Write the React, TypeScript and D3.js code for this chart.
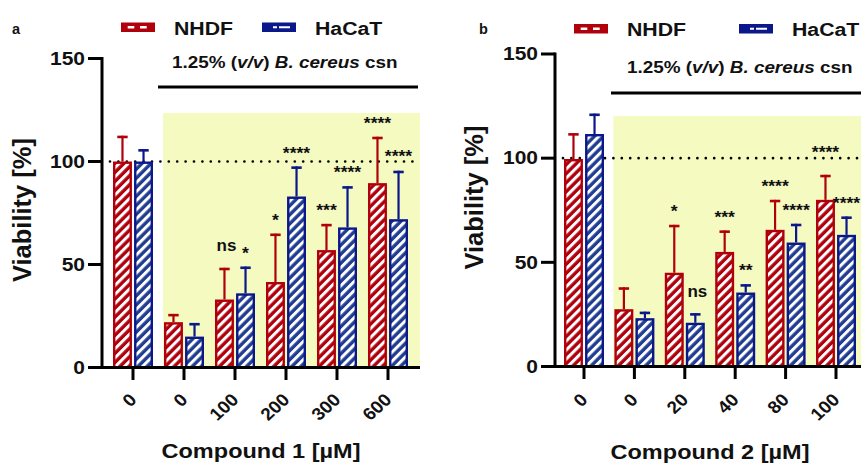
import React from "react";
import * as d3 from "d3";

// Cell lines and treatments
const seriesNames = ["NHDF", "HaCaT"];

// Panel a: Compound 1
const doses1 = ["0", "0", "100", "200", "300", "600"];
const nhdf1 = [100, 22, 33, 41.5, 57, 89.5];
const nhdf1Err = [12.5, 4, 15.4, 23.5, 12.7, 22.5];
const hacat1 = [100, 15, 36, 83, 68, 72];
const hacat1Err = [6, 6.6, 13, 14.6, 20, 23.5];
const nhdf1Sig = ["", "", "ns", "*", "***", "****"];
const hacat1Sig = ["", "", "*", "****", "****", "****"];

// Panel b: Compound 2
const doses2 = ["0", "0", "20", "40", "80", "100"];
const nhdf2 = [99.6, 27.5, 45, 55, 65.6, 80];
const nhdf2Err = [12.4, 10.5, 23, 10.3, 14.4, 12];
const hacat2 = [111.6, 23.2, 21, 35.5, 59.5, 63.2];
const hacat2Err = [9.8, 3.1, 4.6, 4, 9, 8.8];
const nhdf2Sig = ["", "", "*", "***", "****", "****"];
const hacat2Sig = ["", "", "ns", "**", "****", "****"];

const yTicks = [0, 50, 100, 150];
const referenceLevel = 100;

const W = 861;
const H = 465;
const FONT = "'Liberation Sans', Arial, Helvetica, sans-serif";
const RED = "#b0000c";
const BLUE = "#0a188a";
const BLUE_STRIPE = "#203d92";
const YELLOW = "#f4fac0";

type Series = { name: string; values: number[]; errors: number[]; sig: string[]; color: string; fill: string };

type PanelSpec = {
  letter: string;
  letterX: number;
  doses: string[];
  series: Series[];
  title: string;
  yAxisX: number;
  xEnd: number;
  yRange: [number, number];
  xFirst: number;
  xLast: number;
  shadeTop: number;
  bracket: [number, number, number];
  subtitle: [number, number];
  legend: { y: number; textY: number; redX: number; redText: number; blueX: number; blueText: number };
  yLabel: [number, number];
  xTitle: [number, number];
};

function T(props: {
  x: number;
  y: number;
  size: number;
  sx?: number;
  rot?: number;
  anchor?: "start" | "middle" | "end";
  weight?: string;
  dy?: string;
  fill?: string;
  children: React.ReactNode;
}) {
  const { x, y, size, sx = 1, rot = 0, anchor = "start", weight = "bold", dy, fill = "#111" } = props;
  return (
    <text
      transform={`translate(${x},${y}) scale(${sx},1) rotate(${rot})`}
      fontSize={size}
      fontFamily={FONT}
      fontWeight={weight}
      textAnchor={anchor}
      dy={dy}
      fill={fill}
    >
      {props.children}
    </text>
  );
}

function Panel({ spec }: { spec: PanelSpec }) {
  const y = d3.scaleLinear().domain([0, 150]).range(spec.yRange);
  const idx = d3.range(spec.doses.length);
  const x = d3.scalePoint<number>().domain(idx).range([spec.xFirst, spec.xLast]);
  const sub = d3.scaleBand<string>().domain(seriesNames).range([-20, 20]).paddingInner(0.1);
  const bw = sub.bandwidth();
  const y0 = y(0);
  const yRef = y(referenceLevel);
  const sw = 2.4;
  const shadeLeft = (x(1) as number) + (sub("NHDF") as number) - 1;
  const lg = spec.legend;

  return (
    <g>
      <T x={spec.letterX} y={33.5} size={14.5}>{spec.letter}</T>

      {/* legend */}
      <rect x={lg.redX} y={lg.y} width={34} height={9.5} fill={RED} />
      <line x1={lg.redX + 6.7} x2={lg.redX + 26} y1={lg.y + 4.75} y2={lg.y + 4.75} stroke="#fff" strokeWidth={2.4} strokeDasharray="6.6 5.7 6.7" />
      <T x={lg.redText} y={lg.textY} size={18.5} sx={1.15}>NHDF</T>
      <rect x={lg.blueX} y={lg.y} width={34} height={9.5} fill={BLUE} />
      <line x1={lg.blueX + 11} x2={lg.blueX + 28} y1={lg.y + 4.75} y2={lg.y + 4.75} stroke="#fff" strokeWidth={2.2} strokeDasharray="4 2 11" />
      <T x={lg.blueText} y={lg.textY} size={18.5} sx={1.15}>HaCaT</T>

      {/* treated region */}
      <rect x={shadeLeft} y={spec.shadeTop} width={spec.xEnd - shadeLeft} height={y0 - spec.shadeTop} fill={YELLOW} />
      <line x1={spec.bracket[0]} x2={spec.bracket[1]} y1={spec.bracket[2]} y2={spec.bracket[2]} stroke="#000" strokeWidth={3.2} />
      <text
        transform={`translate(${spec.subtitle[0]},${spec.subtitle[1]}) scale(1.18,1)`}
        fontSize={16}
        fontFamily={FONT}
        fontWeight="bold"
        fill="#111"
      >
        <tspan>1.25% (</tspan>
        <tspan fontStyle="italic">v/v</tspan>
        <tspan>) </tspan>
        <tspan fontStyle="italic">B. cereus</tspan>
        <tspan> csn</tspan>
      </text>

      {/* 100% reference */}
      <line
        x1={spec.yAxisX + 8}
        x2={spec.xEnd}
        y1={yRef}
        y2={yRef}
        stroke="#000"
        strokeWidth={2.7}
        strokeDasharray="0 8.4"
        strokeLinecap="round"
      />

      {/* bars with error bars */}
      {spec.series.map((s) =>
        idx.map((i) => {
          const left = (x(i) as number) + (sub(s.name) as number);
          const cx = left + bw / 2;
          const top = y(s.values[i]);
          const errTop = y(s.values[i] + s.errors[i]);
          return (
            <g key={s.name + i}>
              <line x1={cx} x2={cx} y1={top} y2={errTop} stroke={s.color} strokeWidth={2.2} />
              <line x1={cx - 5.2} x2={cx + 5.2} y1={errTop + 1.2} y2={errTop + 1.2} stroke={s.color} strokeWidth={2.6} />
              <rect
                x={left + sw / 2}
                y={top + sw / 2}
                width={bw - sw}
                height={y0 - top - sw / 2}
                fill={`url(#${s.fill})`}
                stroke={s.color}
                strokeWidth={sw}
              />
            </g>
          );
        })
      )}

      {/* significance marks, lifted clear of the 100% line when they would sit on it */}
      {spec.series.map((s) =>
        idx.map((i) => {
          const label = s.sig[i];
          if (!label) return null;
          const cx = (x(i) as number) + (sub(s.name) as number) + bw / 2;
          const errTop = y(s.values[i] + s.errors[i]);
          if (label === "ns") {
            return (
              <T key={"sig" + s.name + i} x={cx + 2} y={errTop - 21 + 4.5} size={17} anchor="middle">
                ns
              </T>
            );
          }
          let center = errTop - 17;
          if (center <= yRef + 2 && center > yRef - 9) center = yRef - 9;
          return (
            <T key={"sig" + s.name + i} x={cx} y={center + 9.2} size={16} sx={1.1} anchor="middle">
              {label}
            </T>
          );
        })
      )}

      {/* axes */}
      <line x1={spec.yAxisX} x2={spec.yAxisX} y1={y0 + 1.5} y2={y(150) - 1.5} stroke="#000" strokeWidth={3} />
      <line x1={spec.yAxisX - 14} x2={spec.xEnd} y1={y0} y2={y0} stroke="#000" strokeWidth={3} />
      {yTicks.map((t) => (
        <g key={"yt" + t}>
          <line x1={spec.yAxisX - 14} x2={spec.yAxisX} y1={y(t)} y2={y(t)} stroke="#000" strokeWidth={3} />
          <T x={spec.yAxisX - 17} y={y(t) + 6.2} size={17.5} sx={1.2} anchor="end">
            {t}
          </T>
        </g>
      ))}
      {idx.map((i) => (
        <g key={"xt" + i}>
          <line x1={x(i) as number} x2={x(i) as number} y1={y0} y2={y0 + 12.5} stroke="#000" strokeWidth={3} />
          <T x={(x(i) as number) - 5} y={392} size={17.5} sx={1.08} rot={-45} anchor="end" dy="0.72em">
            {spec.doses[i]}
          </T>
        </g>
      ))}

      <T x={spec.yLabel[0]} y={spec.yLabel[1]} size={25.5} rot={-90} anchor="middle">
        Viability [%]
      </T>
      <T x={spec.xTitle[0]} y={spec.xTitle[1]} size={21} sx={1.12} anchor="middle">
        {spec.title}
      </T>
    </g>
  );
}

const panelA: PanelSpec = {
  letter: "a",
  letterX: 12,
  doses: doses1,
  series: [
    { name: "NHDF", values: nhdf1, errors: nhdf1Err, sig: nhdf1Sig, color: RED, fill: "hatchRed" },
    { name: "HaCaT", values: hacat1, errors: hacat1Err, sig: hacat1Sig, color: BLUE, fill: "hatchBlue" },
  ],
  title: "Compound 1 [µM]",
  yAxisX: 102,
  xEnd: 420,
  yRange: [367.5, 58.5],
  xFirst: 133,
  xLast: 388,
  shadeTop: 113,
  bracket: [158, 418, 87],
  subtitle: [172, 68],
  legend: { y: 22.5, textY: 34.5, redX: 121, redText: 174, blueX: 262, blueText: 315 },
  yLabel: [31, 210],
  xTitle: [261, 458],
};

const panelB: PanelSpec = {
  letter: "b",
  letterX: 479,
  doses: doses2,
  series: [
    { name: "NHDF", values: nhdf2, errors: nhdf2Err, sig: nhdf2Sig, color: RED, fill: "hatchRed" },
    { name: "HaCaT", values: hacat2, errors: hacat2Err, sig: hacat2Sig, color: BLUE, fill: "hatchBlue" },
  ],
  title: "Compound 2 [µM]",
  yAxisX: 555,
  xEnd: 900,
  yRange: [366.5, 54],
  xFirst: 584,
  xLast: 836,
  shadeTop: 116,
  bracket: [611, 900, 93],
  subtitle: [627, 73],
  legend: { y: 24, textY: 35.5, redX: 574, redText: 627, blueX: 739, blueText: 792 },
  yLabel: [482.5, 197.5],
  xTitle: [710, 459],
};

export default function App() {
  return (
    <svg width={W} height={H} style={{ position: "absolute", left: 0, top: 0, background: "#fff" }}>
      <defs>
        <pattern id="hatchRed" patternUnits="userSpaceOnUse" width={6.4} height={6.4} patternTransform="rotate(45)">
          <rect width={6.4} height={6.4} fill={RED} />
          <rect x={0} width={3.0} height={6.4} fill="#fff" />
        </pattern>
        <pattern id="hatchBlue" patternUnits="userSpaceOnUse" width={6.4} height={6.4} patternTransform="rotate(45)">
          <rect width={6.4} height={6.4} fill={BLUE_STRIPE} />
          <rect x={0} width={3.0} height={6.4} fill="#fff" />
        </pattern>
      </defs>
      <Panel spec={panelA} />
      <Panel spec={panelB} />
    </svg>
  );
}
